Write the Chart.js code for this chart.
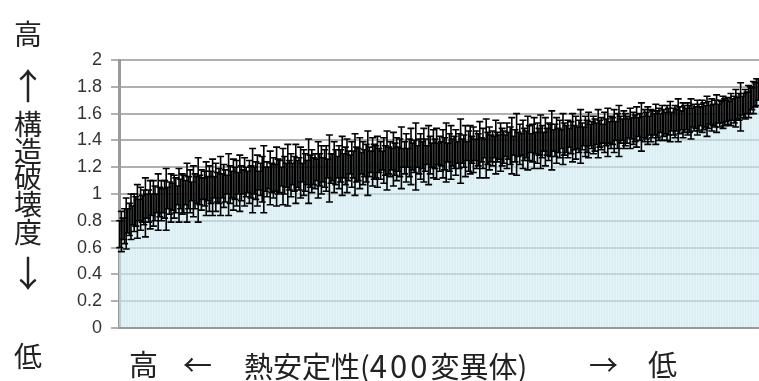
<!DOCTYPE html>
<html>
<head>
<meta charset="utf-8">
<script src="https://cdn.jsdelivr.net/npm/chart.js@4/dist/chart.umd.min.js"></script>
<style>
  body { margin: 0; background: #fff; }
  #wrap { position: relative; width: 759px; height: 381px; }
  .lbl { position: absolute; font-family: "Noto Sans CJK JP", sans-serif; color: #222; line-height: 1; white-space: nowrap; }
  .v { font-size: 28px; width: 56px; left: 0; text-align: center; }
  .arr { font-size: 36px; }
  .h { font-size: 29px; top: 349px; }
  .num { font-size: 31px; letter-spacing: 3px; }
</style>
</head>
<body>
<div id="wrap">
  <canvas id="chart" width="759" height="381"></canvas>
  <!-- 縦軸ラベル -->
  <div class="lbl v" style="top:19px">高</div>
  <div class="lbl v arr" style="top:66px">↑</div>
  <div class="lbl v" style="top:109px">構</div>
  <div class="lbl v" style="top:136px">造</div>
  <div class="lbl v" style="top:162px">破</div>
  <div class="lbl v" style="top:189px">壊</div>
  <div class="lbl v" style="top:217px">度</div>
  <div class="lbl v arr" style="top:253px">↓</div>
  <div class="lbl v" style="top:341px">低</div>
  <!-- 横軸ラベル -->
  <div class="lbl h" style="left:129px">高</div>
  <div class="lbl h" style="left:183px">←</div>
  <div class="lbl h" style="left:244px">熱安定性(<span class="num">400</span>変異体)</div>
  <div class="lbl h" style="left:589px">→</div>
  <div class="lbl h" style="left:648px">低</div>
</div>
<script>
// 構造破壊度 (平均値, 熱安定性の高い順)
const damage = [
  0.70,0.72,0.74,0.76,0.78,0.80,0.81,0.83,0.84,0.86,0.87,0.87,0.88,0.89,0.89,0.90,0.90,0.91,0.91,0.92,
  0.92,0.93,0.93,0.93,0.94,0.94,0.95,0.95,0.96,0.96,0.97,0.97,0.97,0.98,0.98,0.99,0.99,0.99,1.00,1.00,
  1.00,1.01,1.01,1.01,1.02,1.02,1.02,1.02,1.03,1.03,1.03,1.03,1.04,1.04,1.04,1.04,1.04,1.05,1.05,1.05,
  1.05,1.05,1.06,1.06,1.06,1.06,1.06,1.07,1.07,1.07,1.07,1.07,1.08,1.08,1.08,1.08,1.08,1.09,1.09,1.09,
  1.09,1.09,1.09,1.10,1.10,1.10,1.10,1.10,1.11,1.11,1.11,1.11,1.11,1.12,1.12,1.12,1.12,1.12,1.13,1.13,
  1.13,1.13,1.13,1.14,1.14,1.14,1.14,1.14,1.15,1.15,1.15,1.15,1.15,1.16,1.16,1.16,1.16,1.16,1.17,1.17,
  1.17,1.17,1.17,1.18,1.18,1.18,1.18,1.18,1.19,1.19,1.19,1.19,1.19,1.20,1.20,1.20,1.20,1.20,1.21,1.21,
  1.21,1.21,1.21,1.21,1.22,1.22,1.22,1.22,1.22,1.22,1.23,1.23,1.23,1.23,1.23,1.23,1.24,1.24,1.24,1.24,
  1.24,1.24,1.25,1.25,1.25,1.25,1.25,1.25,1.25,1.26,1.26,1.26,1.26,1.26,1.26,1.27,1.27,1.27,1.27,1.27,
  1.27,1.27,1.28,1.28,1.28,1.28,1.28,1.28,1.28,1.29,1.29,1.29,1.29,1.29,1.29,1.29,1.30,1.30,1.30,1.30,
  1.30,1.30,1.30,1.30,1.31,1.31,1.31,1.31,1.31,1.31,1.31,1.31,1.32,1.32,1.32,1.32,1.32,1.32,1.32,1.33,
  1.33,1.33,1.33,1.33,1.33,1.33,1.33,1.34,1.34,1.34,1.34,1.34,1.34,1.34,1.35,1.35,1.35,1.35,1.35,1.35,
  1.35,1.36,1.36,1.36,1.36,1.36,1.36,1.36,1.37,1.37,1.37,1.37,1.37,1.37,1.37,1.38,1.38,1.38,1.38,1.38,
  1.38,1.38,1.39,1.39,1.39,1.39,1.39,1.39,1.39,1.40,1.40,1.40,1.40,1.40,1.40,1.41,1.41,1.41,1.41,1.41,
  1.41,1.42,1.42,1.42,1.42,1.42,1.42,1.43,1.43,1.43,1.43,1.43,1.43,1.44,1.44,1.44,1.44,1.44,1.45,1.45,
  1.45,1.45,1.45,1.46,1.46,1.46,1.46,1.46,1.47,1.47,1.47,1.47,1.47,1.48,1.48,1.48,1.48,1.48,1.49,1.49,
  1.49,1.49,1.49,1.50,1.50,1.50,1.50,1.50,1.51,1.51,1.51,1.51,1.51,1.52,1.52,1.52,1.52,1.52,1.53,1.53,
  1.53,1.53,1.53,1.54,1.54,1.54,1.54,1.54,1.55,1.55,1.55,1.55,1.55,1.56,1.56,1.56,1.56,1.56,1.57,1.57,
  1.57,1.57,1.57,1.58,1.58,1.58,1.58,1.58,1.59,1.59,1.59,1.59,1.60,1.60,1.60,1.60,1.61,1.61,1.61,1.62,
  1.62,1.62,1.63,1.63,1.63,1.64,1.64,1.65,1.65,1.66,1.66,1.67,1.68,1.69,1.70,1.71,1.72,1.74,1.76,1.78
];

// 誤差 (±)
const damageErr = [
  0.10,0.15,0.08,0.13,0.19,0.09,0.12,0.17,0.07,0.14,0.11,0.20,0.08,0.16,0.10,0.13,0.22,0.09,0.12,0.18,
  0.08,0.17,0.13,0.07,0.21,0.11,0.15,0.09,0.14,0.23,0.08,0.12,0.18,0.10,0.16,0.13,0.07,0.20,0.11,0.15,
  0.14,0.09,0.22,0.12,0.16,0.07,0.19,0.13,0.10,0.24,0.11,0.15,0.08,0.13,0.20,0.09,0.17,0.12,0.21,0.08,
  0.18,0.11,0.13,0.22,0.09,0.16,0.12,0.07,0.23,0.14,0.10,0.19,0.12,0.17,0.08,0.21,0.13,0.09,0.18,0.11,
  0.08,0.16,0.12,0.24,0.10,0.14,0.19,0.07,0.12,0.17,0.25,0.09,0.13,0.08,0.20,0.11,0.15,0.10,0.22,0.13,
  0.12,0.07,0.21,0.14,0.09,0.23,0.11,0.16,0.08,0.13,0.22,0.10,0.12,0.19,0.07,0.17,0.14,0.09,0.24,0.12,
  0.16,0.10,0.13,0.08,0.21,0.12,0.18,0.09,0.14,0.17,0.07,0.25,0.11,0.10,0.19,0.13,0.08,0.16,0.12,0.22,
  0.09,0.14,0.20,0.11,0.07,0.17,0.10,0.23,0.13,0.12,0.19,0.08,0.16,0.10,0.14,0.24,0.11,0.08,0.18,0.13,
  0.12,0.19,0.09,0.14,0.07,0.17,0.11,0.22,0.10,0.13,0.08,0.20,0.12,0.16,0.09,0.14,0.23,0.07,0.12,0.18,
  0.07,0.14,0.21,0.10,0.12,0.25,0.08,0.13,0.17,0.10,0.20,0.12,0.07,0.22,0.14,0.09,0.18,0.11,0.19,0.08,
  0.13,0.09,0.18,0.12,0.22,0.07,0.14,0.20,0.10,0.12,0.17,0.08,0.13,0.24,0.09,0.12,0.19,0.07,0.15,0.18,
  0.10,0.17,0.08,0.14,0.12,0.21,0.09,0.15,0.07,0.22,0.12,0.16,0.10,0.13,0.08,0.20,0.11,0.09,0.18,0.14,
  0.12,0.08,0.17,0.10,0.14,0.21,0.07,0.12,0.23,0.09,0.15,0.08,0.18,0.12,0.10,0.20,0.13,0.07,0.14,0.19,
  0.08,0.15,0.10,0.20,0.12,0.07,0.18,0.10,0.14,0.12,0.22,0.08,0.12,0.17,0.09,0.14,0.07,0.19,0.12,0.10,
  0.14,0.07,0.12,0.18,0.09,0.16,0.08,0.12,0.20,0.10,0.07,0.15,0.12,0.17,0.08,0.10,0.14,0.12,0.08,0.18,
  0.10,0.12,0.07,0.15,0.10,0.18,0.08,0.12,0.10,0.16,0.07,0.13,0.19,0.10,0.08,0.14,0.12,0.10,0.07,0.15,
  0.08,0.12,0.10,0.15,0.07,0.10,0.18,0.08,0.12,0.10,0.14,0.07,0.12,0.10,0.08,0.15,0.10,0.12,0.07,0.13,
  0.10,0.08,0.13,0.10,0.15,0.07,0.10,0.12,0.08,0.16,0.10,0.07,0.13,0.10,0.08,0.12,0.10,0.15,0.07,0.10,
  0.08,0.13,0.10,0.07,0.12,0.10,0.08,0.15,0.10,0.07,0.12,0.08,0.10,0.14,0.07,0.10,0.08,0.12,0.10,0.08,
  0.10,0.07,0.12,0.08,0.10,0.14,0.08,0.10,0.18,0.07,0.09,0.11,0.08,0.12,0.10,0.08,0.12,0.09,0.10,0.08
];

// 変異体番号 (カテゴリ)
const variants = damage.map((_, i) => String(i + 1));

// エラーバー描画プラグイン
const errorBars = {
  id: 'errorBars',
  afterDatasetsDraw(chart) {
    const ctx = chart.ctx;
    const y = chart.scales.y;
    const meta = chart.getDatasetMeta(0);
    ctx.save();
    ctx.strokeStyle = '#000';
    ctx.lineWidth = 1.6;
    meta.data.forEach((bar, i) => {
      const v = damage[i], e = damageErr[i];
      const yt = y.getPixelForValue(v + e);
      const yb = y.getPixelForValue(v - e);
      ctx.beginPath();
      ctx.moveTo(bar.x, yt); ctx.lineTo(bar.x, yb);
      ctx.moveTo(bar.x - 3.5, yt); ctx.lineTo(bar.x + 3.5, yt);
      ctx.moveTo(bar.x - 3.5, yb); ctx.lineTo(bar.x + 3.5, yb);
      ctx.stroke();
    });
    ctx.restore();
  }
};

new Chart(document.getElementById('chart'), {
  type: 'bar',
  data: {
    labels: variants,
    datasets: [{
      data: damage,
      backgroundColor: 'rgba(183,222,232,0.55)',
      borderColor: 'rgba(255,255,255,0.35)',
      borderWidth: 0.4,
      barPercentage: 1,
      categoryPercentage: 1
    }]
  },
  options: {
    responsive: false,
    animation: false,
    layout: { padding: { top: 60, right: 0, bottom: 0, left: 0 } },
    plugins: { legend: { display: false }, tooltip: { enabled: false } },
    scales: {
      x: {
        ticks: { display: false },
        grid: { display: false },
        border: { display: true, color: '#999', width: 2 },
        afterFit(s) { s.height = 53; }
      },
      y: {
        min: 0, max: 2,
        ticks: {
          stepSize: 0.2,
          padding: 9,
          color: '#333',
          font: { family: 'Liberation Sans', size: 18 },
          callback: v => String(Number(v.toFixed(1)))
        },
        grid: { color: '#b0b0b0', lineWidth: 2, tickLength: 8, tickColor: '#b0b0b0' },
        border: { color: '#999', width: 3 },
        afterFit(s) { s.width = 119; }
      }
    }
  },
  plugins: [errorBars]
});
</script>
</body>
</html>
